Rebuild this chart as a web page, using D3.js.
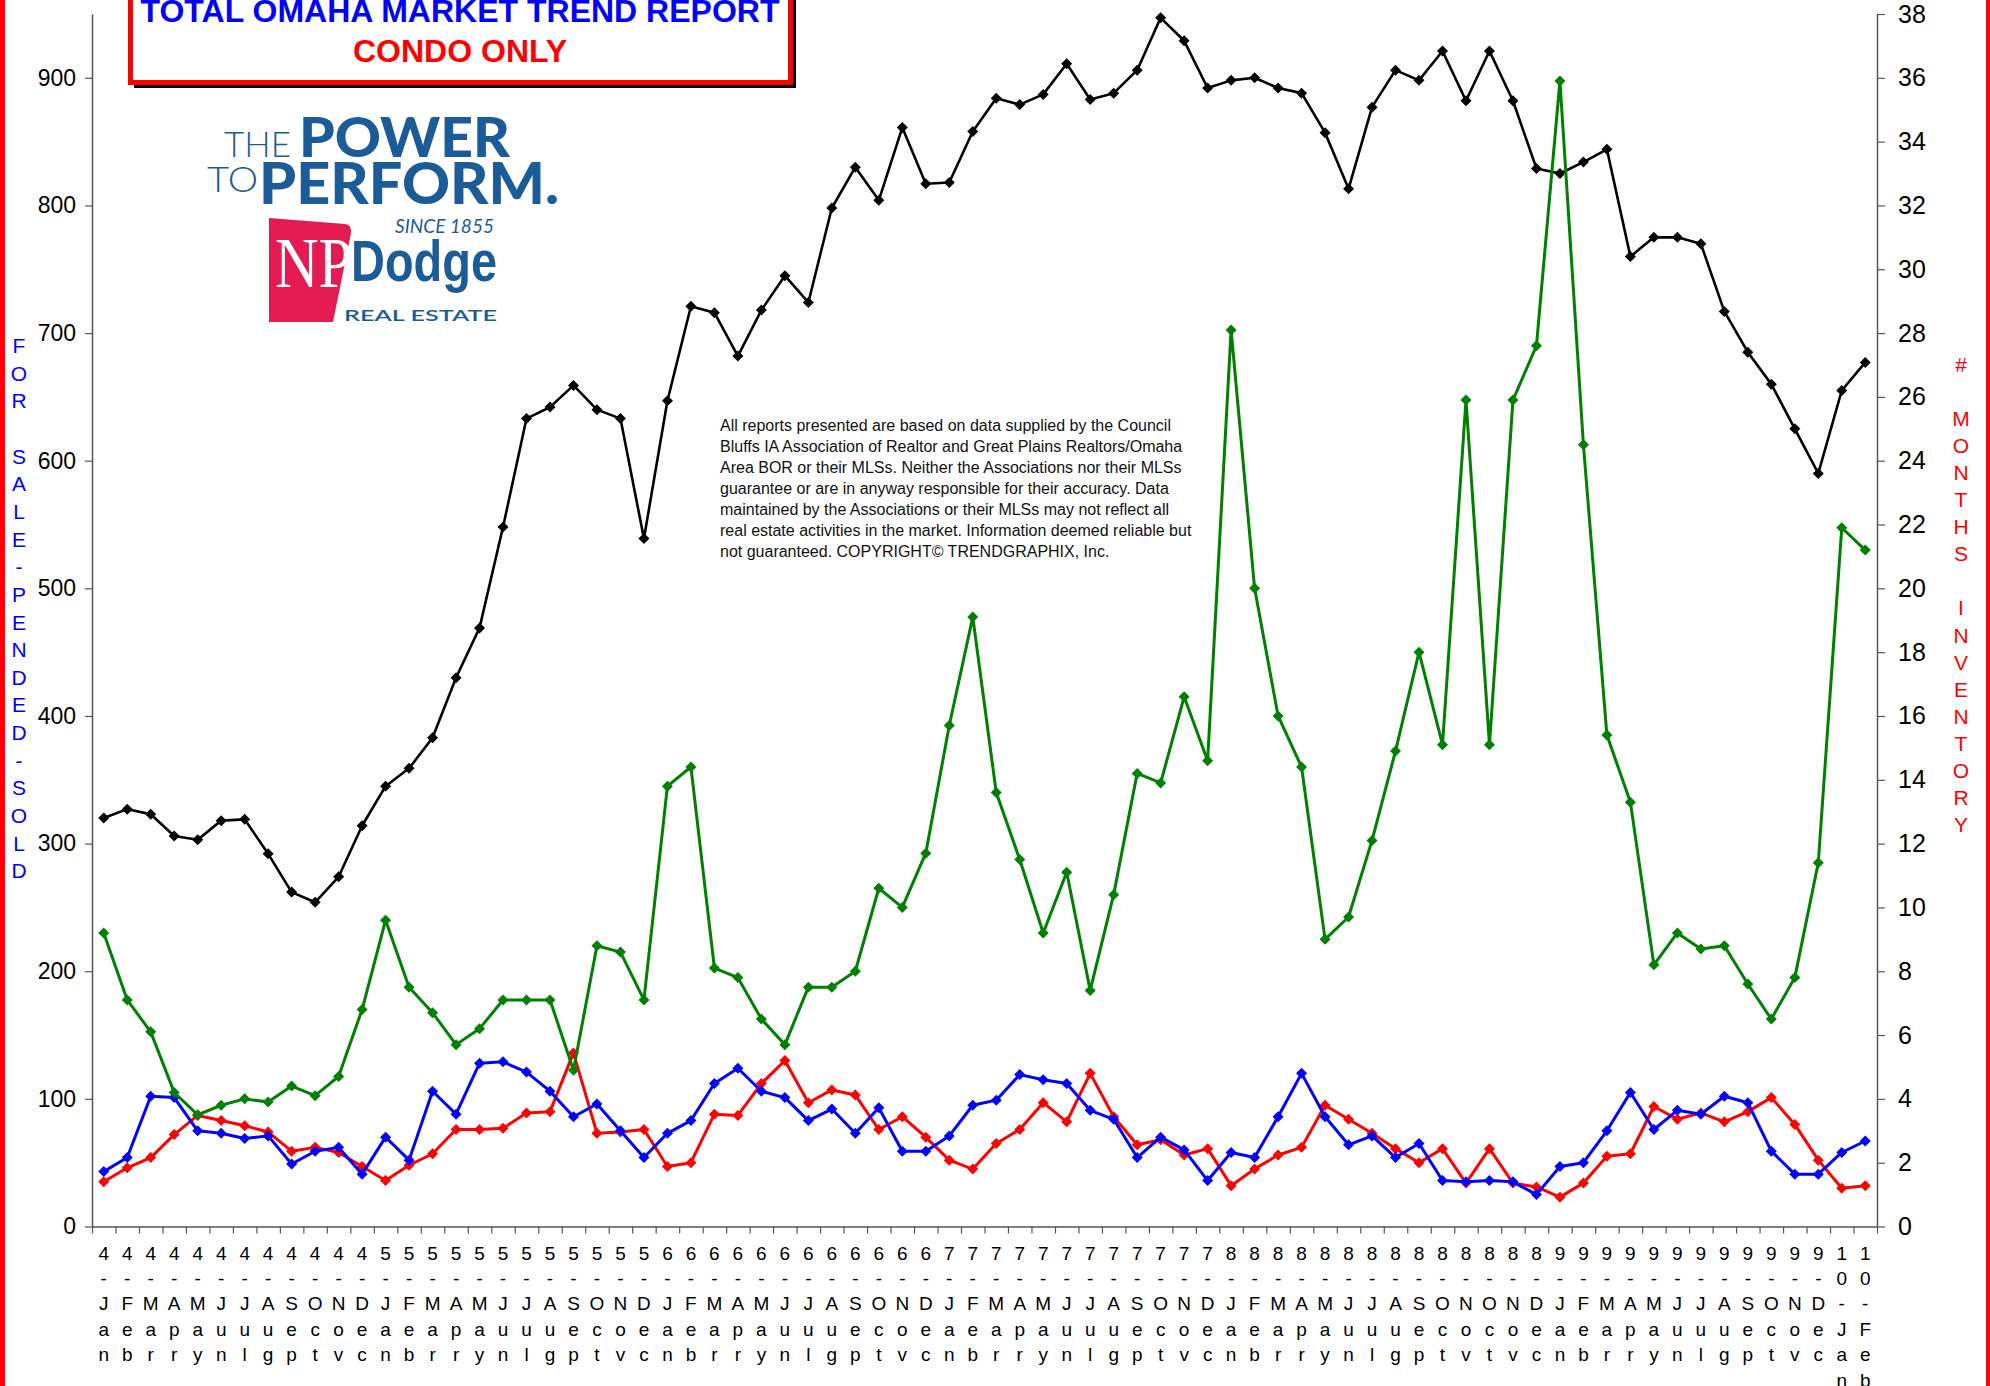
<!DOCTYPE html>
<html>
<head>
<meta charset="utf-8">
<script src="https://cdn.jsdelivr.net/npm/d3@7"></script>
<style>
  body { margin: 0; background: #fff; }
  svg { display: block; }
</style>
</head>
<body>
<div id="chart"></div>
<script>
const width = 1990;
const height = 1386;

// month labels, as printed under the x axis (the 2008 block repeats Oct/Nov)
const labels = [
  "4-Jan","4-Feb","4-Mar","4-Apr","4-May","4-Jun","4-Jul","4-Aug","4-Sep","4-Oct","4-Nov","4-Dec",
  "5-Jan","5-Feb","5-Mar","5-Apr","5-May","5-Jun","5-Jul","5-Aug","5-Sep","5-Oct","5-Nov","5-Dec",
  "6-Jan","6-Feb","6-Mar","6-Apr","6-May","6-Jun","6-Jul","6-Aug","6-Sep","6-Oct","6-Nov","6-Dec",
  "7-Jan","7-Feb","7-Mar","7-Apr","7-May","7-Jun","7-Jul","7-Aug","7-Sep","7-Oct","7-Nov","7-Dec",
  "8-Jan","8-Feb","8-Mar","8-Apr","8-May","8-Jun","8-Jul","8-Aug","8-Sep","8-Oct","8-Nov","8-Oct","8-Nov","8-Dec",
  "9-Jan","9-Feb","9-Mar","9-Apr","9-May","9-Jun","9-Jul","9-Aug","9-Sep","9-Oct","9-Nov","9-Dec",
  "10-Jan","10-Feb"
];

// for sale (left axis)
const forSale = [
  320,327,323,306,303,318,319,292,262,254,274,314,
  345,359,383,430,469,548,633,642,659,640,633,539,
  647,721,716,682,718,745,724,798,830,804,861,817,
  818,858,884,879,887,911,883,888,906,947,929,892,
  898,900,892,888,857,813,877,906,898,921,882,921,882,829,
  825,834,844,760,775,775,770,717,685,660,625,590,
  655,677
];

// pended (left axis)
const pended = [
  43,54,102,101,75,73,69,71,49,59,62,41,
  70,52,106,88,128,129,121,106,86,96,75,54,
  73,83,112,124,106,101,83,92,73,93,59,59,
  71,95,99,119,115,112,91,84,54,70,60,36,
  58,54,86,120,86,64,71,54,65,36,35,36,35,25,
  47,50,75,105,76,91,88,102,97,59,41,41,
  58,67
];

// sold (left axis)
const sold = [
  35,46,54,72,87,83,79,74,59,62,58,47,
  36,48,57,76,76,77,89,90,136,73,74,76,
  47,50,88,87,112,130,97,107,103,76,86,70,
  52,45,65,76,97,82,120,86,64,68,56,61,
  32,45,56,62,95,84,73,61,50,61,34,61,34,31,
  23,34,55,57,94,84,89,82,90,101,80,52,
  30,32
];

// months of inventory (right axis)
const monthsInv = [
  9.2,7.1,6.1,4.2,3.5,3.8,4.0,3.9,4.4,4.1,4.7,6.8,
  9.6,7.5,6.7,5.7,6.2,7.1,7.1,7.1,4.9,8.8,8.6,7.1,
  13.8,14.4,8.1,7.8,6.5,5.7,7.5,7.5,8.0,10.6,10.0,11.7,
  15.7,19.1,13.6,11.5,9.2,11.1,7.4,10.4,14.2,13.9,16.6,14.6,
  28.1,20.0,16.0,14.4,9.0,9.7,12.1,14.9,18.0,15.1,25.9,15.1,25.9,27.6,
  35.9,24.5,15.4,13.3,8.2,9.2,8.7,8.8,7.6,6.5,7.8,11.4,
  21.9,21.2
];

const leftTicks = [0,100,200,300,400,500,600,700,800,900];
const rightTicks = [0,2,4,6,8,10,12,14,16,18,20,22,24,26,28,30,32,34,36,38];

const disclaimer = [
  "All reports presented are based on data supplied by the Council",
  "Bluffs IA Association of Realtor and Great Plains Realtors/Omaha",
  "Area BOR or their MLSs. Neither the Associations nor their MLSs",
  "guarantee or are in anyway responsible for their accuracy. Data",
  "maintained by the Associations or their MLSs may not reflect all",
  "real estate activities in the market. Information deemed reliable but",
  "not guaranteed. COPYRIGHT\u00A9 TRENDGRAPHIX, Inc."
];

const plot = { left: 92, right: 1877, top: 14, bottom: 1226.5 };

const svg = d3.select("#chart")
  .append("svg")
  .attr("width", width)
  .attr("height", height)
  .style("font-family", "'Liberation Sans', Arial, sans-serif");

svg.append("rect").attr("width", width).attr("height", height).attr("fill", "#fff");

// scales
const x = d3.scaleBand()
  .domain(d3.range(labels.length))
  .range([plot.left, plot.right]);
const xEdge = d3.scaleLinear()
  .domain([0, labels.length])
  .range([plot.left, plot.right]);
const yL = d3.scaleLinear().domain([0, 950]).range([plot.bottom, plot.top]);
const yR = d3.scaleLinear().domain([0, 38]).range([plot.bottom, plot.top]);
const cx = i => x(i) + x.bandwidth() / 2;

// red side frame
svg.append("rect").attr("x", 0).attr("y", 0).attr("width", 5).attr("height", height).attr("fill", "#ff0000");
svg.append("rect").attr("x", 1986).attr("y", 0).attr("width", 4).attr("height", height).attr("fill", "#ff0000");

// axes
const axisColor = "#555";

const gLeft = svg.append("g")
  .attr("transform", `translate(${plot.left},0)`)
  .call(d3.axisLeft(yL).tickValues(leftTicks).tickSize(7).tickSizeOuter(0).tickPadding(9));
gLeft.selectAll("text")
  .attr("font-size", "23px")
  .attr("font-family", "'Liberation Sans Narrow', 'Arial Narrow', sans-serif")
  .attr("fill", "#000");

const gRight = svg.append("g")
  .attr("transform", `translate(${plot.right},0)`)
  .call(d3.axisRight(yR).tickValues(rightTicks).tickSize(8).tickSizeOuter(0).tickPadding(13));
gRight.selectAll("text")
  .attr("font-size", "25px")
  .attr("fill", "#000");

const gTicks = svg.append("g")
  .attr("transform", `translate(0,${plot.bottom})`)
  .call(d3.axisBottom(xEdge).tickValues(d3.range(labels.length + 1)).tickFormat("").tickSize(7).tickSizeOuter(0));

const gX = svg.append("g")
  .attr("transform", `translate(0,${plot.bottom})`)
  .call(d3.axisBottom(x).tickSize(0).tickFormat(i => labels[i]));
gX.select(".domain").remove();
gX.selectAll("text").each(function(d) {
  const t = d3.select(this);
  const chars = labels[d].split("");
  t.text(null)
    .attr("y", 0)
    .attr("dy", null)
    .attr("font-size", "19px")
    .attr("fill", "#000");
  chars.forEach((c, k) => {
    t.append("tspan")
      .attr("x", 0)
      .attr("y", 33 + k * 25.4)
      .text(c);
  });
});

svg.selectAll(".domain").attr("stroke", axisColor).attr("stroke-width", 1.5);
svg.selectAll(".tick line").attr("stroke", axisColor).attr("stroke-width", 1.2);

// series
const diamond = "M0,-5.5L5.5,0L0,5.5L-5.5,0Z";
function drawSeries(values, yScale, color, lw) {
  const line = d3.line().x((d, i) => cx(i)).y(d => yScale(d));
  svg.append("path")
    .datum(values)
    .attr("d", line)
    .attr("fill", "none")
    .attr("stroke", color)
    .attr("stroke-width", lw)
    .attr("stroke-linejoin", "round");
  svg.append("g").selectAll("path")
    .data(values)
    .join("path")
    .attr("d", diamond)
    .attr("transform", (d, i) => `translate(${cx(i)},${yScale(d)})`)
    .attr("fill", color);
}

drawSeries(forSale, yL, "#000000", 2.6);
drawSeries(sold, yL, "#ff0000", 3);
drawSeries(pended, yL, "#0000ff", 3);
drawSeries(monthsInv, yR, "#008000", 3);

// axis titles as stacked letters
const leftTitle = "FOR SALE-PENDED-SOLD".split("");
svg.append("text")
  .attr("text-anchor", "middle")
  .attr("font-size", "21px")
  .attr("fill", "#0000ff")
  .selectAll("tspan")
  .data(leftTitle)
  .join("tspan")
  .attr("x", 19)
  .attr("y", (d, i) => 353 + i * 27.65)
  .text(d => d);

const rightTitle = "# MONTHS INVENTORY".split("");
svg.append("text")
  .attr("text-anchor", "middle")
  .attr("font-size", "21px")
  .attr("fill", "#ff0000")
  .selectAll("tspan")
  .data(rightTitle)
  .join("tspan")
  .attr("x", 1961)
  .attr("y", (d, i) => 372 + i * 27.05)
  .text(d => d);

// disclaimer
svg.append("g").selectAll("text")
  .data(disclaimer)
  .join("text")
  .attr("x", 720)
  .attr("y", (d, i) => 431 + i * 21)
  .attr("font-size", "16px")
  .attr("fill", "#111")
  .text(d => d);

// title box
svg.append("rect")
  .attr("x", 134).attr("y", -20)
  .attr("width", 662).attr("height", 108)
  .attr("fill", "#000");
svg.append("rect")
  .attr("x", 130.5).attr("y", -20)
  .attr("width", 660).attr("height", 102.5)
  .attr("fill", "#fff")
  .attr("stroke", "#ff0000")
  .attr("stroke-width", 5);
svg.append("text")
  .attr("x", 460).attr("y", 22)
  .attr("text-anchor", "middle")
  .attr("font-size", "32px").attr("font-weight", "bold")
  .attr("fill", "#0000ff")
  .attr("textLength", 639).attr("lengthAdjust", "spacingAndGlyphs")
  .text("TOTAL OMAHA MARKET TREND REPORT");
svg.append("text")
  .attr("x", 460).attr("y", 62)
  .attr("text-anchor", "middle")
  .attr("font-size", "32px").attr("font-weight", "bold")
  .attr("fill", "#ff0000")
  .attr("textLength", 214).attr("lengthAdjust", "spacingAndGlyphs")
  .text("CONDO ONLY");

// logo
const logoBlue = "#1b5b98";
const logo = svg.append("g").attr("font-family", "Lato, Roboto, sans-serif");
function logoText(str, xPos, yPos, size, weight, len, fill, extra) {
  const t = logo.append("text")
    .attr("x", xPos).attr("y", yPos)
    .attr("font-size", size + "px")
    .attr("font-weight", weight)
    .attr("fill", fill || logoBlue)
    .attr("textLength", len).attr("lengthAdjust", "spacingAndGlyphs")
    .text(str);
  if (extra) extra(t);
  return t;
}
logoText("THE", 224, 157, 35, 300, 67);
logoText("POWER", 299, 157, 56, 900, 211);
logoText("TO", 207, 192, 35, 300, 51);
logoText("PERFORM.", 259, 204, 57, 900, 300);
logoText("SINCE 1855", 395, 233, 19, 400, 99, null, t => t.attr("font-style", "italic"));
logo.append("path")
  .attr("d", "M269,218 L345,224 Q352,225 351,233 L333,322 L269,322 Z")
  .attr("fill", "#e31b50");
logoText("NP", 275, 287, 72, 400, 77, "#fff", t => t.attr("font-family", "'Liberation Serif', serif"));
logoText("Dodge", 351, 281, 58, 700, 146, null, t => t.attr("font-family", "'Liberation Sans Narrow', 'Arial Narrow', sans-serif"));
logoText("REAL ESTATE", 344, 321, 15, 600, 153);
</script>
</body>
</html>
